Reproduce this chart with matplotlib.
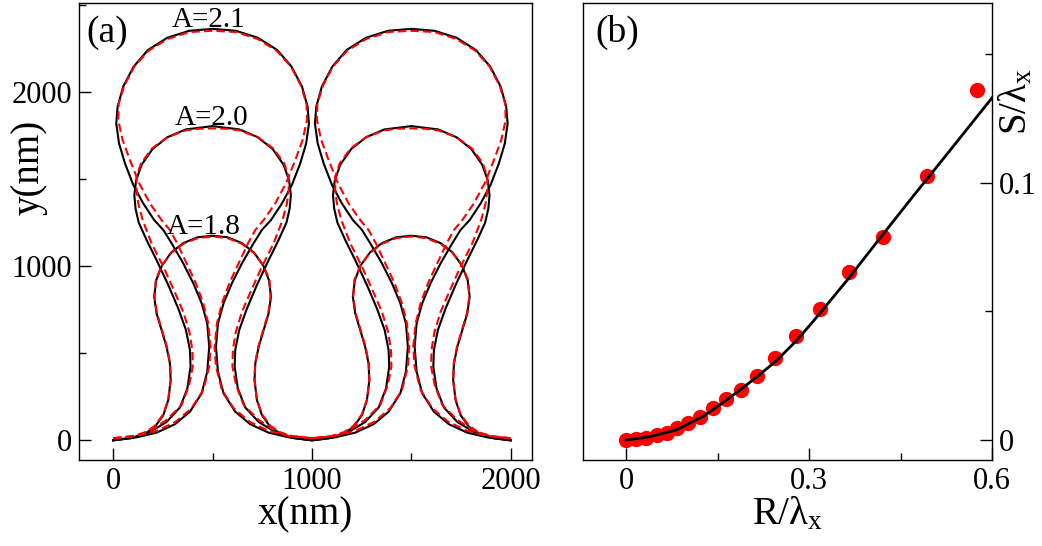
import numpy as np
import matplotlib
matplotlib.use("Agg")
import matplotlib.pyplot as plt
from matplotlib.ticker import FixedLocator

plt.rcParams['font.family'] = ['Liberation Serif', 'DejaVu Serif']
plt.rcParams['mathtext.fontset'] = 'custom'
plt.rcParams['mathtext.rm'] = 'Liberation Serif'
plt.rcParams['mathtext.it'] = 'Liberation Serif:italic'

# ---- panel (a): one half of a crest, trough (x=0) -> crest top (x=500), in nm ----
# exact profiles (black)
x18 = [0, 84, 151, 210, 252, 277, 289, 285, 268, 243, 218, 206, 216, 245, 292, 353, 424, 500]
y18 = [0, 11, 31, 78, 145, 231, 346, 442, 537, 633, 728, 824, 918, 1003, 1078, 1132, 1165, 1174]
x20 = [0, 101, 185, 268, 336, 373, 389, 386, 366, 327, 277, 218, 168, 128,
       112, 106, 115, 143, 198, 274, 365, 500]
y20 = [0, 17, 48, 105, 189, 298, 423, 518, 633, 757, 891, 1034, 1149, 1250,
       1330, 1407, 1492, 1582, 1672, 1740, 1784, 1803]
x21 = [0, 117, 218, 310, 386, 445, 473, 483, 473, 445, 403, 352, 294, 252, 206,
       151, 101, 59, 29, 15, 22, 50, 103, 175, 272, 383, 500]
y21 = [0, 17, 44, 92, 164, 270, 394, 537, 671, 786, 901, 1016, 1130, 1207, 1264,
       1359, 1465, 1589, 1704, 1818, 1915, 2030, 2145, 2240, 2310, 2350, 2361]

# approximate profiles (red dashed)
x18r = [0, 84, 151, 210, 252, 277, 289, 286, 270, 245, 220, 208, 214, 244, 292, 353, 424, 500]
y18r = [12, 20, 38, 84, 150, 235, 346, 442, 537, 633, 728, 824, 920, 1003, 1075, 1128, 1160, 1170]
x20r = [0, 101, 185, 268, 344, 382, 400, 398, 383, 352, 305, 252, 193, 148,
        126, 117, 117, 140, 195, 270, 362, 430, 500]
y20r = [12, 25, 55, 117, 203, 317, 423, 518, 623, 738, 862, 996, 1130, 1264,
        1359, 1436, 1512, 1590, 1675, 1738, 1778, 1788, 1790]
x21r = [0, 117, 218, 315, 394, 453, 483, 490, 478, 453, 416, 369, 322, 285, 243,
        185, 131, 84, 47, 25, 27, 55, 106, 177, 273, 383, 500]
y21r = [12, 25, 54, 107, 184, 289, 423, 537, 671, 786, 901, 1016, 1130, 1207, 1264,
        1359, 1474, 1608, 1723, 1837, 1930, 2035, 2145, 2235, 2303, 2343, 2350]

amp_labels = ['A=2.1', 'A=2.0', 'A=1.8']
label_x = [482, 497, 453]
label_y = [2412, 1852, 1226]

period = 1000.0

# ---- panel (b) ----
R_pts = [0, 0.0164, 0.0328, 0.0503, 0.0667, 0.0831, 0.1022, 0.1213, 0.1421, 0.1634,
         0.1880, 0.2142, 0.2443, 0.2787, 0.3180, 0.3645, 0.4208, 0.4929, 0.5749]
S_pts = [0, 0.0003, 0.0009, 0.0018, 0.0028, 0.0045, 0.0065, 0.0090, 0.0123, 0.0161,
         0.0196, 0.0249, 0.0319, 0.0403, 0.0510, 0.0652, 0.0791, 0.1027, 0.1359]
R_line = [0, 0.0393, 0.0831, 0.1268, 0.1596, 0.1896, 0.2197, 0.2470, 0.2798, 0.3071,
          0.3617, 0.4164, 0.4710, 0.5257, 0.6005]
S_line = [0, 0.0013, 0.0040, 0.0093, 0.0147, 0.0200, 0.0256, 0.0310, 0.0388, 0.0463,
          0.0620, 0.0786, 0.0950, 0.1111, 0.1333]


def full_wave(xh, yh):
    # mirror the half crest, then repeat for the second wavelength
    xh = np.asarray(xh, float)
    yh = np.asarray(yh, float)
    xp = np.concatenate([xh, period - xh[::-1][1:]])
    yp = np.concatenate([yh, yh[::-1][1:]])
    return np.concatenate([xp, xp[1:] + period]), np.concatenate([yp, yp[1:]])


fig = plt.figure(figsize=(10.42, 5.46), dpi=100)
ax = fig.add_axes([0.0761, 0.1575, 0.4347, 0.8375])
bx = fig.add_axes([0.5592, 0.1575, 0.3931, 0.8375])

for xh, yh in [(x18, y18), (x20, y20), (x21, y21)]:
    X, Y = full_wave(xh, yh)
    ax.plot(X, Y, color='black', lw=1.5, solid_joinstyle='round')
for xh, yh in [(x18r, y18r), (x20r, y20r), (x21r, y21r)]:
    X, Y = full_wave(xh, yh)
    ax.plot(X, Y, color='red', lw=1.5, dashes=(4, 2))

for t, lx, ly in zip(amp_labels, label_x, label_y):
    ax.text(lx, ly, t, fontsize=21, ha='center', va='center')

ax.set_xlim(-171, 2109)
ax.set_ylim(-113, 2511)
ax.xaxis.set_major_locator(FixedLocator([0, 1000, 2000]))
ax.xaxis.set_minor_locator(FixedLocator([500, 1500]))
ax.yaxis.set_major_locator(FixedLocator([0, 1000, 2000]))
ax.yaxis.set_minor_locator(FixedLocator([500, 1500, 2500]))
ax.set_xticklabels(['0', '1000', '2000'])
ax.set_yticklabels(['0', '1000', '2000'])
ax.set_xlabel('x(nm)', fontsize=28, labelpad=0)
ax.set_ylabel('y(nm)', fontsize=28)
ax.yaxis.set_label_coords(-0.07, 0.64)
ax.text(0.016, 0.935, '(a)', transform=ax.transAxes, fontsize=27, va='center')

bx.plot(R_line, S_line, color='black', lw=2.0, zorder=3)
bx.plot(R_pts, S_pts, 'o', color='red', ms=10, mec='red', zorder=2)
bx.set_xlim(-0.071, 0.6)
bx.set_ylim(-0.00775, 0.17)
bx.xaxis.set_major_locator(FixedLocator([0, 0.3, 0.6]))
bx.xaxis.set_minor_locator(FixedLocator([0.15, 0.45]))
bx.yaxis.set_major_locator(FixedLocator([0, 0.1]))
bx.yaxis.set_minor_locator(FixedLocator([0.05, 0.15]))
bx.set_xticklabels(['0', '0.3', '0.6'])
bx.set_yticklabels(['0', '0.1'])
bx.yaxis.tick_right()
bx.yaxis.set_label_position('right')
bx.set_xlabel(r'R/λ$_{\mathrm{x}}$', fontsize=28, labelpad=0)
bx.set_ylabel(r'S/λ$_{\mathrm{x}}$', fontsize=28, rotation=90)
bx.yaxis.set_label_coords(1.012, 0.783)
bx.text(0.03, 0.935, '(b)', transform=bx.transAxes, fontsize=27, va='center')

for a in (ax, bx):
    for s in a.spines.values():
        s.set_linewidth(1.0)
        s.set_color('black')
    a.tick_params(which='both', direction='in', labelsize=22, width=1.0)
    a.tick_params(which='major', length=8.5, pad=5)
    a.tick_params(which='minor', length=5)
ax.tick_params(which='both', top=False, right=False)
bx.tick_params(which='both', top=False, left=False, right=True)

fig.savefig('out.png', dpi=100)
